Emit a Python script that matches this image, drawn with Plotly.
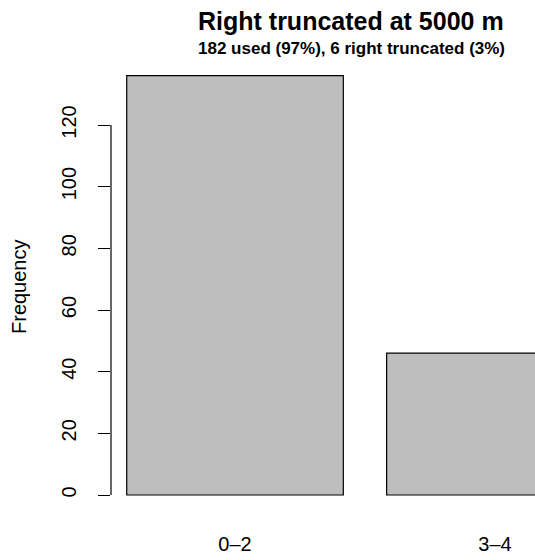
import plotly.graph_objects as go

categories = ["0\u20132", "3\u20134"]
frequency = [136, 46]
y_ticks = [0, 20, 40, 60, 80, 100, 120]
title_text = "Right truncated at 5000 m"
subtitle_text = "182 used (97%), 6 right truncated (3%)"
y_label = "Frequency"

FONT = "Liberation Sans, Arial, Helvetica, sans-serif"
W, H = 535, 560
ML, MR, MT, MB = 111, 0, 60, 50
PW, PH = W - ML - MR, H - MT - MB

# R barplot geometry: width 1, space 0.2
space = 0.2
xc = [space + i * (1 + space) + 0.5 for i in range(len(categories))]

# pixel mapping derived from reference
px_per_x = 216.6
x0_px = 83.4
px_per_y = 370 / 120
y0_px = 495

xr = [(ML - x0_px) / px_per_x, (W - MR - x0_px) / px_per_x]
yr = [(y0_px - (H - MB)) / px_per_y, (y0_px - MT) / px_per_y]

def paper_x(px):
    return (px - ML) / PW

def paper_y(py):
    return (H - MB - py) / PH

fig = go.Figure()
fig.add_trace(go.Bar(
    x=xc, y=frequency, width=1.0,
    marker=dict(color="#BEBEBE", line=dict(color="black", width=1.2)),
    hoverinfo="skip",
))

fig.update_layout(
    width=W, height=H,
    margin=dict(l=ML, r=MR, t=MT, b=MB),
    paper_bgcolor="white", plot_bgcolor="white",
    showlegend=False,
    font=dict(family=FONT, color="black", size=20),
    xaxis=dict(
        range=xr, tickvals=xc, ticktext=categories,
        showgrid=False, zeroline=False, showline=False, ticks="",
        tickfont=dict(size=20), ticklabelstandoff=20,
    ),
    yaxis=dict(
        range=yr, tickvals=y_ticks, ticktext=[str(v) for v in y_ticks],
        showgrid=False, zeroline=False, showline=False,
        ticks="outside", ticklen=12, tickwidth=1.2, tickcolor="black",
        tickangle=-90, tickfont=dict(size=20), ticklabelstandoff=14,
    ),
    shapes=[dict(type="line", xref="paper", yref="y", x0=0, x1=0,
                 y0=y_ticks[0], y1=y_ticks[-1],
                 line=dict(color="black", width=1.2))],
    annotations=[
        dict(text="<b>" + title_text + "</b>", xref="paper", yref="paper",
             x=paper_x(351), y=paper_y(21), xanchor="center", yanchor="middle",
             showarrow=False, font=dict(size=25, family=FONT)),
        dict(text="<b>" + subtitle_text + "</b>", xref="paper", yref="paper",
             x=paper_x(351), y=paper_y(48), xanchor="center", yanchor="middle",
             showarrow=False, font=dict(size=17, family=FONT)),
        dict(text=y_label, xref="paper", yref="paper",
             x=paper_x(19), y=paper_y(287), xanchor="center", yanchor="middle",
             textangle=-90, showarrow=False, font=dict(size=20, family=FONT)),
    ],
)

fig.write_html(
    "out.html",
    config={"displayModeBar": False},
    post_script="document.body.style.margin='0';document.body.style.overflow='hidden';",
)
